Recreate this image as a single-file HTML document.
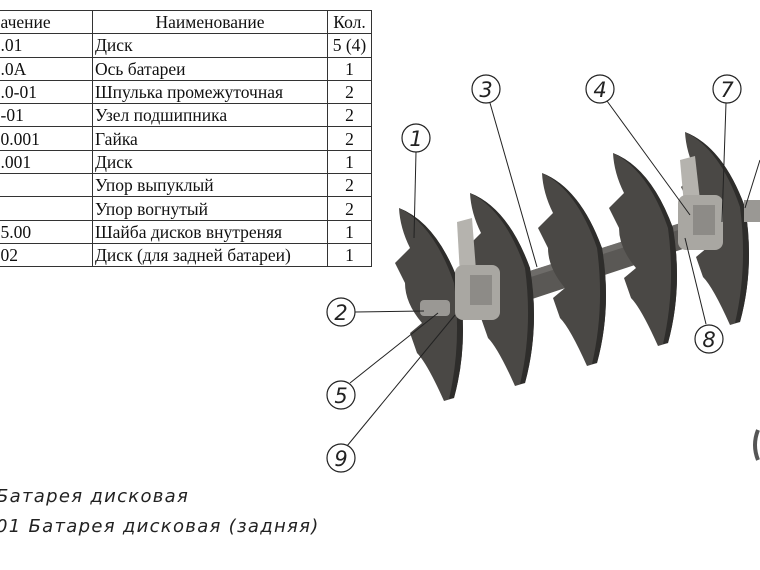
<!DOCTYPE html>
<html><head><meta charset="utf-8"><style>
body{margin:0;width:760px;height:570px;background:#fff;overflow:hidden;position:relative;font-family:"Liberation Serif","DejaVu Serif",serif}
table{position:absolute;left:-20px;top:10px;border-collapse:collapse;font-size:17.5px;color:#111}
td{border:1px solid #333;height:22.3px;padding:0 2px;line-height:20px;white-space:nowrap}
td.a{width:107px}td.b{width:230px}td.c{width:39px;text-align:center}
.cap{position:absolute;left:-4px;font-family:"DejaVu Sans","Liberation Sans",sans-serif;font-style:italic;font-size:18px;color:#222;letter-spacing:1.3px}
svg{position:absolute;left:0;top:0}
</style></head><body>
<table>
<tr><td class="a">&nbsp;&nbsp;&nbsp;&nbsp;ачение</td><td class="b" style="text-align:center">Наименование</td><td class="c">Кол.</td></tr>
<tr><td class="a">&nbsp;&nbsp;&nbsp;&nbsp;.01</td><td class="b">Диск</td><td class="c">5 (4)</td></tr>
<tr><td class="a">&nbsp;&nbsp;&nbsp;&nbsp;.0А</td><td class="b">Ось батареи</td><td class="c">1</td></tr>
<tr><td class="a">&nbsp;&nbsp;&nbsp;&nbsp;.0-01</td><td class="b">Шпулька промежуточная</td><td class="c">2</td></tr>
<tr><td class="a">&nbsp;&nbsp;&nbsp;&nbsp;-01</td><td class="b">Узел подшипника</td><td class="c">2</td></tr>
<tr><td class="a">&nbsp;&nbsp;&nbsp;&nbsp;0.001</td><td class="b">Гайка</td><td class="c">2</td></tr>
<tr><td class="a">&nbsp;&nbsp;&nbsp;&nbsp;.001</td><td class="b">Диск</td><td class="c">1</td></tr>
<tr><td class="a"></td><td class="b">Упор выпуклый</td><td class="c">2</td></tr>
<tr><td class="a"></td><td class="b">Упор вогнутый</td><td class="c">2</td></tr>
<tr><td class="a">&nbsp;&nbsp;&nbsp;&nbsp;5.00</td><td class="b">Шайба дисков внутреняя</td><td class="c">1</td></tr>
<tr><td class="a">&nbsp;&nbsp;&nbsp;&nbsp;02</td><td class="b">Диск (для задней батареи)</td><td class="c">1</td></tr>
</table>
<div class="cap" style="top:486px">Батарея дисковая</div>
<div class="cap" style="top:516px">01 Батарея дисковая (задняя)</div>
<svg width="760" height="570" viewBox="0 0 760 570">
<defs>
<g id="disc">
<path d="M-33,-95 Q5,-80 27,-20 Q37,40 22,95 L12,98 Q-5,60 -15,50 L-22,30 L-10,20 Q-27,0 -27,-20 L-37,-40 L-22,-55 Q-32,-75 -33,-95Z" fill="#4a4845"/>
<path d="M-33,-95 Q5,-80 27,-20 Q37,40 22,95 L17,96 Q30,40 22,-20 Q2,-78 -33,-95Z" fill="#2e2d2b"/>
</g>
</defs>
<use href="#disc" x="432" y="303"/>
<polygon points="470,290 690,220 695,245 475,318" fill="#5a5855"/>
<polygon points="470,290 690,220 691,226 471,296" fill="#6e6c69"/>
<use href="#disc" x="503" y="288"/>
<use href="#disc" x="575" y="268"/>
<use href="#disc" x="646" y="248"/>
<polygon points="457,222 472,218 476,270 460,275" fill="#b5b3ae"/>
<rect x="455" y="265" width="45" height="55" rx="8" fill="#a9a7a2"/>
<rect x="470" y="275" width="22" height="30" fill="#8d8b87"/>
<use href="#disc" x="718" y="227"/>
<polygon points="680,160 695,156 700,200 684,205" fill="#b5b3ae"/>
<rect x="678" y="195" width="45" height="55" rx="8" fill="#a9a7a2"/>
<rect x="693" y="205" width="22" height="30" fill="#8d8b87"/>
<rect x="420" y="300" width="30" height="16" rx="4" fill="#9a9894"/>
<rect x="744" y="200" width="16" height="22" fill="#9a9894"/>
<path d="M758,430 Q752,445 758,460" stroke="#555" stroke-width="4" fill="none"/>
<g stroke="#222" stroke-width="1" fill="none">
<line x1="416" y1="152" x2="414" y2="238"/>
<line x1="490" y1="103" x2="537" y2="267"/>
<line x1="607" y1="101" x2="690" y2="215"/>
<line x1="726" y1="103" x2="722" y2="222"/>
<line x1="760" y1="160" x2="745" y2="208"/>
<line x1="355" y1="312" x2="424" y2="311"/>
<line x1="350" y1="383" x2="438" y2="313"/>
<line x1="347" y1="446" x2="455" y2="315"/>
<line x1="706" y1="324" x2="685" y2="238"/>
</g>
<g fill="#fff" stroke="#222" stroke-width="1.2">
<circle cx="416" cy="138" r="14"/><circle cx="486" cy="89" r="14"/><circle cx="600" cy="89" r="14"/><circle cx="727" cy="89" r="14"/>
<circle cx="341" cy="312" r="14"/><circle cx="341" cy="395" r="14"/><circle cx="341" cy="458" r="14"/><circle cx="709" cy="339" r="14"/>
</g>
<g font-family="DejaVu Sans,sans-serif" font-style="italic" font-size="21" fill="#222" text-anchor="middle">
<text x="416" y="146">1</text><text x="486" y="97">3</text><text x="600" y="97">4</text><text x="727" y="97">7</text>
<text x="341" y="320">2</text><text x="341" y="403">5</text><text x="341" y="466">9</text><text x="709" y="347">8</text>
</g>
</svg>
</body></html>
